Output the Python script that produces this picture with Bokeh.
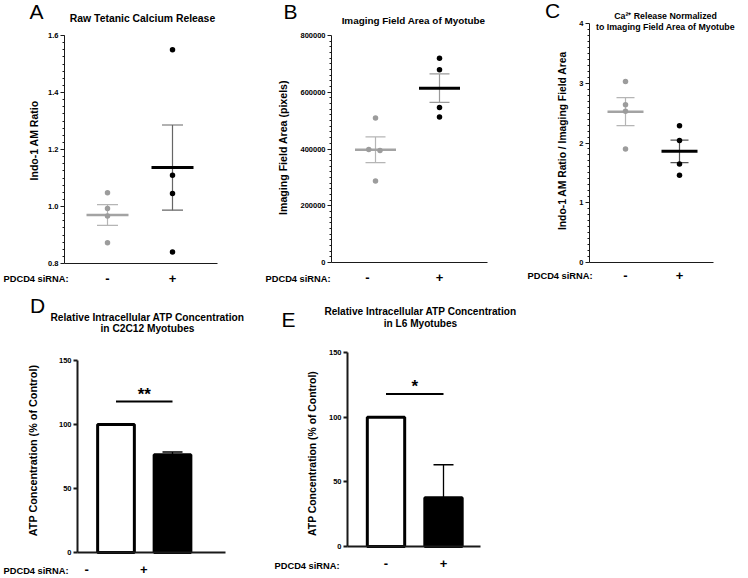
import numpy as np
from bokeh.plotting import figure
from bokeh.models import Range1d, FixedTicker, Label, PrintfTickFormatter
from bokeh.layouts import row, column
from bokeh.core.properties import value
from bokeh.embed import file_html
from bokeh.resources import INLINE

FONT = "Liberation Sans"

groups = ["-", "+"]
row_title = "PDCD4 siRNA:"

# A: raw tetanic calcium release (Indo-1 AM ratio)
ca_raw_ctrl = [1.048, 0.993, 0.967, 0.873]
ca_raw_kd = [1.55, 1.11, 1.046, 0.84]
ca_raw_ticks = [0.8, 1.0, 1.2, 1.4, 1.6]

# B: imaging field area of the myotube (pixels)
area_ctrl = [509000, 398000, 395000, 287000]
area_kd = [720000, 679000, 546000, 513000]
area_ticks = [0, 200000, 400000, 600000, 800000]
area_ctrl_jitter = [0.0, -0.105, 0.07, 0.0]

# C: calcium release normalised to imaging field area
ca_norm_ctrl = [3.03, 2.64, 2.53, 1.90]
ca_norm_kd = [2.29, 2.04, 1.65, 1.46]
ca_norm_ticks = [0, 1, 2, 3, 4]

# D / E: relative ATP concentration (% of control), mean and SEM
atp_c2c12_mean = [100, 76.3]
atp_c2c12_err = [0, 2.2]
atp_l6_mean = [100, 37.6]
atp_l6_err = [0, 25.6]
atp_ticks = [0, 50, 100, 150]
sig_level = 118
sig_c2c12 = "**"
sig_l6 = "*"

CTRL_PT, CTRL_MEAN, CTRL_ERR = "#9c9c9c", "#a3a3a3", "#b5b5b5"
AXIS_COL = "#1a1a1a"


def make_panel(canvas, box, gpx, ylim, yticks, minor, fmt, tick_x, axis_w, x_standoff):
    """canvas: page box of the figure; box: page px of the axes (l, t, r, b);
    gpx: page x of the two groups; ylim: data value at the bottom/top of the y axis.
    The frame fills the whole canvas and both axes sit at fixed locations."""
    cx, cy, cw, ch = canvas
    l, t, r, b = box
    kx = 1.0 / (gpx[1] - gpx[0])
    ky = (ylim[1] - ylim[0]) / (b - t)
    fx = lambda X: (X - gpx[0]) * kx
    fy = lambda Y: ylim[0] + (b - Y) * ky
    p = figure(width=cw, height=ch,
               x_range=Range1d(fx(cx), fx(cx + cw)), y_range=Range1d(fy(cy + ch), fy(cy)),
               min_border=0, output_backend="svg", toolbar_location=None, tools="")
    p.title.visible = False
    p.outline_line_color = None
    p.xgrid.visible = False
    p.ygrid.visible = False
    p.border_fill_color = "white"
    p.background_fill_color = "white"

    ya = p.yaxis[0]
    ya.fixed_location = fx(l)
    ya.bounds = (ylim[0], ylim[1])
    ya.ticker = FixedTicker(ticks=yticks, minor_ticks=minor)
    ya.formatter = PrintfTickFormatter(format=fmt)
    ya.axis_line_width = axis_w
    ya.axis_line_color = AXIS_COL
    ya.major_tick_line_width = axis_w
    ya.major_tick_line_color = AXIS_COL
    ya.minor_tick_line_color = AXIS_COL if minor else None
    ya.major_tick_out, ya.major_tick_in = 4, 0
    ya.minor_tick_out, ya.minor_tick_in = 2, 0
    ya.major_label_text_font = FONT
    ya.major_label_text_font_size = "7.5px"
    ya.major_label_text_font_style = "bold"
    ya.major_label_text_color = "black"
    ya.major_label_standoff = 2

    xa = p.xaxis[0]
    xa.fixed_location = ylim[0]
    xa.bounds = (fx(l), fx(r))
    xa.ticker = FixedTicker(ticks=tick_x)
    xa.major_label_overrides = {t_: g for t_, g in zip(tick_x, groups)}
    xa.axis_line_width = axis_w
    xa.axis_line_color = AXIS_COL
    xa.major_tick_line_color = None
    xa.minor_tick_line_color = None
    xa.major_tick_out, xa.major_tick_in = 0, 0
    xa.major_label_text_font = FONT
    xa.major_label_text_font_size = "13px"
    xa.major_label_text_font_style = "bold"
    xa.major_label_text_color = "black"
    xa.major_label_standoff = x_standoff
    return p, canvas


def note(p, canvas, text, gx, gy, size, style="bold", align="center",
         baseline="middle", angle=0.0):
    cx, cy, cw, ch = canvas
    p.add_layout(Label(x=gx - cx, y=cy + ch - gy, x_units="screen", y_units="screen",
                       text=text, text_font=FONT, text_font_size=f"{size}px",
                       text_font_style=style, text_align=align,
                       text_baseline=baseline, angle=angle, text_color="black"))


def dot_groups(p, ctrl, kd, jitter, kd_err, mean_len, cap_len):
    for k, (vals, pt, mcol, ecol, lw) in enumerate([
            (ctrl, CTRL_PT, CTRL_MEAN, CTRL_ERR, 2.5),
            (kd, "black", "black", kd_err, 3.0)]):
        vals = np.asarray(vals, dtype=float)
        m = vals.mean()
        s = vals.std(ddof=1) / np.sqrt(len(vals))
        p.segment(x0=[k], y0=[m - s], x1=[k], y1=[m + s], line_color=ecol, line_width=1.2)
        p.scatter(x=[k, k], y=[m - s, m + s], marker="dash", size=cap_len,
                  line_color=ecol, line_width=1.2)
        p.scatter(x=[k], y=[m], marker="dash", size=mean_len, line_color=mcol, line_width=lw)
        xs = [k + j for j in (jitter if k == 0 else [0] * len(vals))]
        p.scatter(x=xs, y=vals, size=5.5, fill_color=pt, line_color=None)


def bar_groups(p, means, errs, sig, star_lift):
    p.vbar(x=[0, 1], top=means, bottom=0, width=0.65, fill_color=["white", "black"],
           line_color="black", line_width=3)
    kx = [i for i, e in enumerate(errs) if e > 0]
    top = [means[i] + errs[i] for i in kx]
    p.segment(x0=kx, y0=[means[i] for i in kx], x1=kx, y1=top, line_color="black", line_width=1.3)
    p.scatter(x=kx, y=top, marker="dash", size=20, line_color="black", line_width=1.3)
    p.segment(x0=[0], y0=[sig_level], x1=[1], y1=[sig_level], line_color="black", line_width=2)
    p.text(x=[0.5], y=[sig_level + star_lift], text=[sig], text_font=value(FONT),
           text_font_style="bold", text_font_size="17px", text_align="center",
           text_baseline="middle")


# ---- Panel A ----
pA, cA = make_panel((0, 0, 245, 290), (64, 35, 217, 263), (107, 172), (0.8, 1.6),
                    ca_raw_ticks, list(np.arange(0.825, 1.6, 0.025)), "%.1f", [0, 1], 1, 10)
dot_groups(pA, ca_raw_ctrl, ca_raw_kd, [0] * 4, "#666666", 42, 21)
note(pA, cA, "A", 36, 11, 21, style="normal")
note(pA, cA, "Raw Tetanic Calcium Release", 142, 18, 10.4)
note(pA, cA, "Indo-1 AM Ratio", 33, 140, 10.5, angle=np.pi / 2)
note(pA, cA, row_title, 3, 278, 9.3, align="left")

# ---- Panel B ----
pB, cB = make_panel((245, 0, 250, 290), (331, 35, 487, 262), (375, 439), (0, 800000),
                    area_ticks, list(np.arange(20000, 800000, 20000)), "%d", [-0.125, 1], 1, 10)
dot_groups(pB, area_ctrl, area_kd, area_ctrl_jitter, "#9a9a9a", 41, 20)
note(pB, cB, "B", 290, 11, 21, style="normal")
note(pB, cB, "Imaging Field Area of Myotube", 413, 20, 9.9)
note(pB, cB, "Imaging Field Area (pixels)", 282, 147, 10.6, angle=np.pi / 2)
note(pB, cB, row_title, 265, 278, 9.3, align="left")

# ---- Panel C ----
pC, cC = make_panel((495, 0, 253, 290), (589, 23, 713, 262), (625, 679), (0, 4),
                    ca_norm_ticks, list(np.arange(0.1, 4.0, 0.1)), "%d", [0, 1], 1, 8)
dot_groups(pC, ca_norm_ctrl, ca_norm_kd, [0] * 4, "#555555", 36, 18)
note(pC, cC, "C", 552, 10, 21, style="normal")
note(pC, cC, "Ca\u00b2\u207a Release Normalized", 665, 15, 8.8)
note(pC, cC, "to Imaging Field Area of Myotube", 665, 26, 8.8)
note(pC, cC, "Indo-1 AM Ratio / Imaging Field Area", 562, 140, 10.3, angle=np.pi / 2)
note(pC, cC, row_title, 527, 275, 9.3, align="left")

# ---- Panel D ----
pD, cD = make_panel((0, 290, 270, 288), (77, 360, 225, 552), (115.5, 172), (0, 150),
                    atp_ticks, [], "%d", [-0.52, 0.49], 2, 12)
bar_groups(pD, atp_c2c12_mean, atp_c2c12_err, sig_c2c12, 5.5)
note(pD, cD, "D", 37, 305, 21, style="normal")
note(pD, cD, "Relative Intracellular ATP Concentration", 147, 317, 10.2)
note(pD, cD, "in C2C12 Myotubes", 147, 328, 10.2)
note(pD, cD, "ATP Concentration (% of Control)", 32, 450, 10.8, angle=np.pi / 2)
note(pD, cD, row_title, 3, 570, 9.3, align="left")

# ---- Panel E ----
pE, cE = make_panel((270, 290, 478, 288), (347, 352, 480, 546), (385.5, 443), (0, 150),
                    atp_ticks, [], "%d", [0, 1], 2, 12)
bar_groups(pE, atp_l6_mean, atp_l6_err, sig_l6, 5.5)
note(pE, cE, "E", 288, 319, 21, style="normal")
note(pE, cE, "Relative Intracellular ATP Concentration", 420, 311, 10.1)
note(pE, cE, "in L6 Myotubes", 420, 323, 10.1)
note(pE, cE, "ATP Concentration (% of Control)", 312, 453, 10.4, angle=np.pi / 2)
note(pE, cE, row_title, 274, 565, 9.3, align="left")

layout = column(row(pA, pB, pC), row(pD, pE))
open("out.html", "w").write(file_html(layout, INLINE))
